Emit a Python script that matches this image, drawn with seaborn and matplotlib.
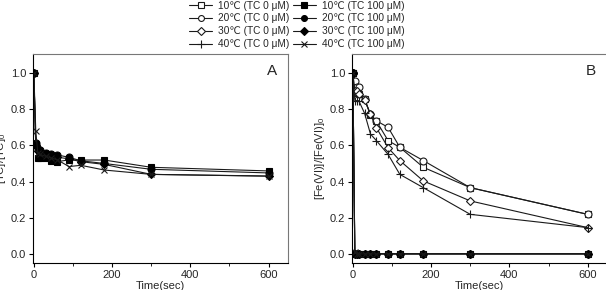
import matplotlib
matplotlib.use("Agg")
import matplotlib.pyplot as plt
from matplotlib.ticker import MultipleLocator
import seaborn as sns
import pandas as pd

sns.set_theme(style="white")
plt.rcParams['font.family'] = ['Liberation Sans', 'DejaVu Sans']
plt.rcParams['mathtext.fontset'] = 'custom'
plt.rcParams['mathtext.rm'] = 'Liberation Sans'
plt.rcParams['mathtext.it'] = 'Liberation Sans'

time = [0, 5, 10, 15, 30, 45, 60, 90, 120, 180, 300, 600]

temps = ["10", "20", "30", "40"]

# Panel A: [TC]/[TC]0 with TC 100 uM
tc_10 = [1.0, 0.60, 0.528, 0.53, 0.53, 0.514, 0.51, 0.52, 0.519, 0.519, 0.479, 0.459]
tc_20 = [1.0, 0.61, 0.578, 0.574, 0.56, 0.55, 0.547, 0.534, 0.515, 0.50, 0.468, 0.448]
tc_30 = [1.0, 0.60, 0.57, 0.56, 0.55, 0.54, 0.535, 0.525, 0.51, 0.495, 0.44, 0.431]
tc_40 = [1.0, 0.68, 0.56, 0.55, 0.54, 0.53, 0.52, 0.483, 0.49, 0.464, 0.44, 0.43]

# Panel B: [Fe(VI)]/[Fe(VI)]0, TC 0 uM
fe0_10 = [1.0, 0.886, 0.886, 0.88, 0.855, 0.767, 0.734, 0.626, 0.589, 0.479, 0.367, 0.22]
fe0_20 = [1.0, 0.956, 0.919, 0.919, 0.855, 0.77, 0.735, 0.699, 0.589, 0.516, 0.367, 0.22]
fe0_30 = [1.0, 0.90, 0.90, 0.88, 0.85, 0.77, 0.697, 0.587, 0.516, 0.404, 0.294, 0.147]
fe0_40 = [1.0, 0.846, 0.846, 0.846, 0.776, 0.662, 0.626, 0.55, 0.44, 0.367, 0.22, 0.147]
# Panel B: TC 100 uM
fe100_10 = [1.0, 0.004, 0.004, 0.004, 0.004, 0.004, 0.004, 0.004, 0.004, 0.004, 0.004, 0.004]
fe100_20 = [1.0, 0.003, 0.003, 0.003, 0.003, 0.003, 0.003, 0.003, 0.003, 0.003, 0.003, 0.003]
fe100_30 = [1.0, 0.002, 0.002, 0.002, 0.002, 0.002, 0.002, 0.002, 0.002, 0.002, 0.002, 0.002]
fe100_40 = [1.0, 0.01, 0.002, 0.002, 0.002, 0.002, 0.002, 0.002, 0.002, 0.002, 0.002, 0.002]

labels0 = [f"{t}\u2103 (TC 0 \u03bcM)" for t in temps]
labels100 = [f"{t}\u2103 (TC 100 \u03bcM)" for t in temps]

open_markers = ["s", "o", "D", "+"]
filled_markers = ["s", "o", "D", "x"]
open_sizes = [4.5, 5, 4.5, 6]
filled_sizes = [4.5, 5, 4.5, 5]

fig = plt.figure(figsize=(6.06, 2.90), dpi=100)
axA = fig.add_axes([0.0545, 0.093, 0.421, 0.721])
axB = fig.add_axes([0.581, 0.093, 0.421, 0.721])

lc = "#1a1a1a"

def draw(ax, y, label, marker, filled, ms):
    df = pd.DataFrame({"t": time, "v": y})
    if marker in ("+", "x"):
        kw = dict(markerfacecolor=lc, markeredgecolor=lc, markeredgewidth=0.8)
    elif filled:
        kw = dict(markerfacecolor="black", markeredgecolor="black", markeredgewidth=0.8)
    else:
        kw = dict(markerfacecolor="white", markeredgecolor=lc, markeredgewidth=0.8)
    sns.lineplot(data=df, x="t", y="v", ax=ax, color=lc, linewidth=0.8,
                 marker=marker, markersize=ms, label=label, legend=False, **kw)

# Panel A: only TC 100 series
for y, lab, m, ms in zip([tc_10, tc_20, tc_30, tc_40], labels100, filled_markers, filled_sizes):
    draw(axA, y, lab, m, True, ms)
# Panel B
for y, lab, m, ms in zip([fe0_10, fe0_20, fe0_30, fe0_40], labels0, open_markers, open_sizes):
    draw(axB, y, lab, m, False, ms)
for y, lab, m, ms in zip([fe100_10, fe100_20, fe100_30, fe100_40], labels100, filled_markers, filled_sizes):
    draw(axB, y, lab, m, True, ms)

for ax, ylab, tag in [(axA, "[TC]/[TC]$_0$", "A"), (axB, "[Fe(VI)]/[Fe(VI)]$_0$", "B")]:
    ax.set_xlim(-2, 650)
    ax.set_ylim(-0.048, 1.103)
    ax.set_xticks([0, 200, 400, 600])
    ax.set_yticks([0.0, 0.2, 0.4, 0.6, 0.8, 1.0])
    ax.set_yticklabels(["0.0", "0.2", "0.4", "0.6", "0.8", "1.0"])
    ax.xaxis.set_minor_locator(MultipleLocator(100))
    ax.tick_params(axis="both", which="major", direction="out", length=3, width=0.8,
                   labelsize=8, color="black", pad=2, bottom=True, left=True)
    ax.tick_params(axis="x", which="minor", direction="out", length=1.8, width=0.6,
                   color="black", bottom=True)
    ax.set_xlabel("Time(sec)", fontsize=8, labelpad=1)
    ax.set_ylabel(ylab, fontsize=8, labelpad=2)
    for s in ["left", "bottom"]:
        ax.spines[s].set_color("black")
        ax.spines[s].set_linewidth(0.8)
    for s in ["top", "right"]:
        ax.spines[s].set_color("#777777")
        ax.spines[s].set_linewidth(0.8)
    ax.text(0.955, 0.95, tag, transform=ax.transAxes, ha="right", va="top", fontsize=11)

# Legend
h0 = axB.get_lines()[:4]
h100 = axB.get_lines()[4:8]
leg = fig.legend(list(h0) + list(h100), labels0 + labels100, ncol=2,
                 loc="upper left", bbox_to_anchor=(0.305, 1.012), frameon=False,
                 fontsize=7.3, handlelength=2.3, handletextpad=0.6, columnspacing=0.3,
                 labelspacing=0.28, borderaxespad=0, markerscale=0.85)

fig.savefig("out.png", dpi=100)
